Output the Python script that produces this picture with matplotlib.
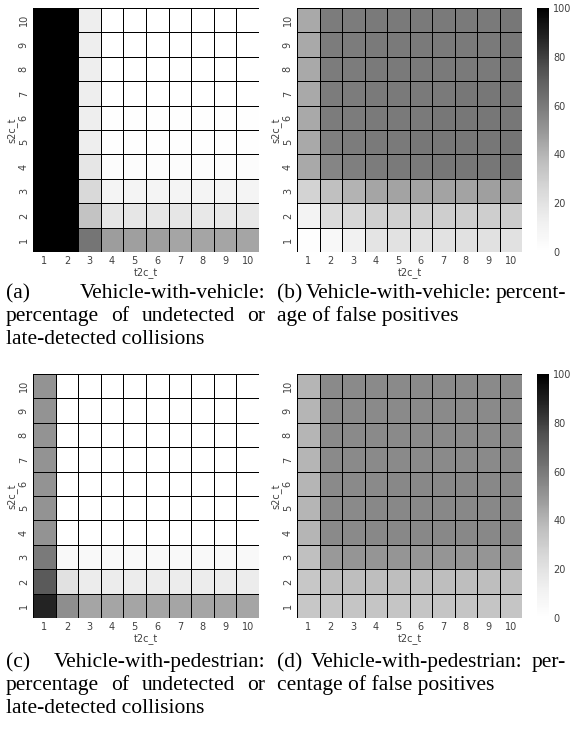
import numpy as np
import matplotlib
matplotlib.use('Agg')
import matplotlib.pyplot as plt
import seaborn as sns

# axis categories
t2c_t = [1, 2, 3, 4, 5, 6, 7, 8, 9, 10]
s2c_t = [10, 9, 8, 7, 6, 5, 4, 3, 2, 1]   # rows listed top to bottom

# (a) vehicle-with-vehicle, % undetected or late-detected collisions
undet_vv = [
    [100, 100, 14, 0, 0, 0, 0, 0, 0, 0],
    [100, 100, 14, 0, 0, 0, 0, 0, 0, 0],
    [100, 100, 14, 0, 0, 0, 0, 0, 0, 0],
    [100, 100, 14, 0, 0, 0, 0, 0, 0, 0],
    [100, 100, 14, 1, 1, 1, 1, 1, 1, 1],
    [100, 100, 14, 1, 1, 1, 1, 1, 1, 1],
    [100, 100, 18, 3, 3, 3, 3, 3, 3, 3],
    [100, 100, 25, 9, 9, 9, 9, 9, 9, 9],
    [100, 100, 35, 18, 18, 18, 18, 17, 17, 17],
    [100, 100, 62, 48, 47, 47, 45, 45, 45, 45],
]
# (b) vehicle-with-vehicle, % false positives
fp_vv = [
    [44, 59, 59, 60, 60, 60, 60, 60, 60, 61],
    [44, 59, 59, 60, 60, 60, 60, 60, 60, 61],
    [44, 59, 59, 60, 60, 60, 60, 60, 60, 61],
    [44, 59, 59, 60, 60, 60, 60, 61, 61, 61],
    [44, 59, 59, 60, 60, 60, 61, 61, 61, 61],
    [44, 58, 59, 60, 60, 61, 61, 61, 61, 62],
    [44, 56, 58, 59, 60, 60, 61, 61, 61, 62],
    [28, 36, 41, 45, 46, 46, 46, 46, 47, 47],
    [10, 24, 26, 29, 29, 30, 30, 30, 30, 31],
    [1, 6, 12, 19, 20, 20, 20, 21, 21, 21],
]
# (c) vehicle-with-pedestrian, % undetected or late-detected collisions
undet_vp = [
    [51, 0, 0, 0, 0, 0, 0, 0, 0, 0],
    [51, 0, 0, 0, 0, 0, 0, 0, 0, 0],
    [51, 0, 0, 0, 0, 0, 0, 0, 0, 0],
    [51, 0, 0, 0, 0, 0, 0, 0, 0, 0],
    [51, 0, 0, 0, 0, 0, 0, 0, 0, 0],
    [51, 0, 0, 0, 0, 0, 0, 0, 0, 0],
    [51, 0, 0, 0, 0, 0, 0, 0, 0, 0],
    [60, 5, 5, 5, 5, 5, 5, 5, 5, 5],
    [72, 21, 15, 15, 15, 15, 15, 15, 15, 15],
    [88, 53, 45, 45, 45, 45, 45, 45, 45, 45],
]
# (d) vehicle-with-pedestrian, % false positives
fp_vp = [
    [40, 54, 54, 54, 54, 54, 54, 54, 54, 54],
    [40, 54, 54, 54, 54, 54, 54, 54, 54, 54],
    [40, 54, 54, 54, 54, 54, 54, 54, 54, 54],
    [40, 54, 54, 54, 54, 54, 54, 54, 54, 55],
    [40, 54, 54, 54, 55, 55, 55, 55, 55, 55],
    [40, 54, 54, 55, 55, 55, 55, 55, 55, 55],
    [40, 54, 54, 55, 55, 55, 55, 55, 55, 55],
    [36, 49, 50, 50, 50, 50, 50, 50, 50, 50],
    [33, 37, 37, 37, 37, 37, 37, 37, 37, 37],
    [33, 34, 34, 34, 34, 34, 34, 34, 34, 34],
]

cbar_ticks = [0, 20, 40, 60, 80, 100]

# caption lines: (text, justified?)
cap_a = [("(a) Vehicle-with-vehicle:", True),
         ("percentage of undetected or", True),
         ("late-detected collisions", False)]
cap_b = [("(b) Vehicle-with-vehicle: percent-", True),
         ("age of false positives", False)]
cap_c = [("(c) Vehicle-with-pedestrian:", True),
         ("percentage of undetected or", True),
         ("late-detected collisions", False)]
cap_d = [("(d) Vehicle-with-pedestrian: per-", True),
         ("centage of false positives", False)]

W, H = 570, 731
fig = plt.figure(figsize=(W/100, H/100), dpi=100)
tcol = '0.25'


def px_axes(x0, y0, x1, y1):
    return fig.add_axes([x0/W, 1 - y1/H, (x1 - x0)/W, (y1 - y0)/H])


def panel(data, box, cbox=None):
    ax = px_axes(*box)
    cax = px_axes(*cbox) if cbox else None
    sns.heatmap(np.array(data), ax=ax, cmap='Greys', vmin=0, vmax=100,
                linewidths=0.7, linecolor='black',
                cbar=cax is not None, cbar_ax=cax,
                xticklabels=t2c_t, yticklabels=s2c_t)
    ax.tick_params(length=0, labelsize=7, colors=tcol, pad=3)
    for lab in ax.get_yticklabels():
        lab.set_rotation(90)
        lab.set_va('center')
    for lab in ax.get_xticklabels():
        lab.set_rotation(0)
    ax.set_xlabel('t2c_t', fontsize=7, color=tcol, labelpad=1)
    ax.set_ylabel('s2c_t', fontsize=7, color=tcol, labelpad=1)
    if cax is not None:
        cax.set_yticks(cbar_ticks)
        cax.tick_params(length=0, labelsize=7, colors=tcol, pad=3)
    return ax


panel(undet_vv, (33, 8, 259, 252))
panel(fp_vv, (297, 8, 522, 252), (537, 8, 549, 252))
panel(undet_vp, (33, 374, 259, 618))
panel(fp_vp, (297, 374, 522, 618), (537, 374, 549, 618))

renderer = fig.canvas.get_renderer()
cap_font = dict(family='Liberation Serif', fontsize=15.5, color='black')


def caption(lines, x0, x1, y_first, step):
    for i, (line, justify) in enumerate(lines):
        y = 1 - (y_first + i*step)/H
        words = line.split(' ')
        if not justify:
            fig.text(x0/W, y, line, va='baseline', ha='left', **cap_font)
            continue
        arts = [fig.text(0, y, w, va='baseline', ha='left', **cap_font) for w in words]
        widths = [a.get_window_extent(renderer).width for a in arts]
        gap = (x1 - x0 - sum(widths)) / max(len(words) - 1, 1)
        x = x0
        for a, w in zip(arts, widths):
            a.set_x(x/W)
            x += w + gap


caption(cap_a, 6, 265, 298, 23)
caption(cap_b, 277, 566, 298, 23)
caption(cap_c, 6, 265, 667, 23)
caption(cap_d, 277, 566, 667, 23)

fig.savefig('out.png', dpi=100)
